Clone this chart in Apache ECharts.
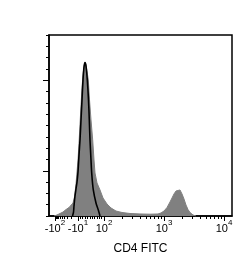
<!DOCTYPE html>
<html>
<head>
<meta charset="utf-8">
<script src="https://cdn.jsdelivr.net/npm/echarts@6/dist/echarts.min.js"></script>
<style>
html, body { margin: 0; padding: 0; background: #fff; }
#chart { width: 250px; height: 265px; }
</style>
</head>
<body>
<div id="chart"></div>
<script>
// x is in display channels (biexponential scale, 0 = left edge of the plot)
var grayX = [5, 8, 11, 14, 17, 20, 22, 24, 25.5, 27, 28, 29, 30, 31.5, 33, 34, 35, 36, 37, 38, 39.3, 40.5, 42, 43.7, 45, 46, 48, 51, 54, 58, 62, 67, 73, 81, 91, 101, 109, 112, 115, 118, 121, 123, 125, 127, 129, 131, 133, 135, 137, 139, 141, 144, 147];
var grayY = [0, 0.09, 0.22, 0.35, 0.57, 0.75, 0.88, 1.15, 1.68, 2.83, 3.89, 4.95, 6.45, 8.93, 11.32, 12.47, 13.26, 13.57, 13.35, 12.82, 12.02, 10.26, 8.49, 6.72, 4.95, 3.8, 2.92, 2.3, 1.59, 1.06, 0.71, 0.44, 0.31, 0.22, 0.18, 0.16, 0.18, 0.27, 0.44, 0.75, 1.24, 1.59, 1.95, 2.21, 2.34, 2.3, 1.95, 1.5, 0.97, 0.57, 0.31, 0.09, 0];

var isoX = [23.5, 24.5, 25, 26, 27, 28, 29, 30, 31, 32, 33, 34, 35, 36, 37, 38.3, 39.5, 40.3, 41, 42, 42.7, 44.3, 47, 49.3, 51];
var isoY = [0, 0.35, 0.88, 1.77, 2.39, 3.0, 3.89, 5.39, 6.72, 8.49, 10.26, 12.02, 13.17, 13.57, 13.26, 12.02, 10.26, 8.49, 6.72, 4.95, 3.8, 2.3, 1.15, 0.53, 0];

// tick positions on the display scale
var majorTickPos = [6, 29, 55, 115, 175];
var majorTickLabels = ['{b|-10}{s|2}', '{b|-10}{s|1}', '{b|10}{s|2}', '{b|10}{s|3}', '{b|10}{s|4}'];
var yMajorTicks = [4, 12];

function pairs(xs, ys) {
    var out = [];
    for (var i = 0; i < xs.length; i++) out.push([xs[i], ys[i]]);
    return out;
}

// minor ticks: log decades plus the linear part round zero
var minorTickPos = [];
for (var m = 2; m <= 9; m++) {
    minorTickPos.push(29 - 23 * Math.log10(m));           // -20 .. -90
    minorTickPos.push(55 + 60 * Math.log10(m));           // 200 .. 900
    minorTickPos.push(115 + 60 * Math.log10(m));          // 2000 .. 9000
}
for (var k = 1; k <= 10; k++) minorTickPos.push(29 + (55 - 29) * k / 11); // -9 .. 90 linear

var labelMap = {};
majorTickPos.forEach(function (p, i) { labelMap[p] = majorTickLabels[i]; });

var myChart = echarts.init(document.getElementById('chart'));
var rich = {
    b: { fontSize: 11, color: '#000', fontFamily: 'Liberation Sans', lineHeight: 15, verticalAlign: 'bottom' },
    s: { fontSize: 8, color: '#000', fontFamily: 'Liberation Sans', lineHeight: 15, verticalAlign: 'top' }
};

myChart.setOption({
    animation: false,
    grid: { left: 49, right: 18, top: 35, bottom: 49, show: true, borderColor: '#000', borderWidth: 1.5, backgroundColor: 'transparent' },
    xAxis: [{
        type: 'value', min: 0, max: 183, position: 'bottom',
        name: 'CD4 FITC', nameLocation: 'middle', nameGap: 27,
        nameTextStyle: { fontSize: 12, color: '#000', fontFamily: 'Liberation Sans' },
        axisLine: { show: true, lineStyle: { color: '#000', width: 1.5 } },
        axisTick: { show: true, length: 5, customValues: majorTickPos, lineStyle: { color: '#000', width: 1 } },
        axisLabel: { show: true, margin: 3, customValues: majorTickPos, rich: rich,
            formatter: function (v) { return labelMap[v] || ''; } },
        splitLine: { show: false }
    }, {
        type: 'value', min: 0, max: 183, position: 'bottom', offset: 0,
        axisLine: { show: false },
        axisTick: { show: true, length: 3, customValues: minorTickPos, lineStyle: { color: '#000', width: 1 } },
        axisLabel: { show: false },
        splitLine: { show: false }
    }],
    yAxis: [{
        type: 'value', min: 0, max: 16, interval: 1, position: 'left',
        axisLine: { show: true, lineStyle: { color: '#000', width: 1.5 } },
        axisTick: { show: true, length: 3, lineStyle: { color: '#000', width: 1 } },
        axisLabel: { show: false },
        splitLine: { show: false }
    }, {
        type: 'value', min: 0, max: 16, position: 'left', offset: 0,
        axisLine: { show: false },
        axisTick: { show: true, length: 6, customValues: yMajorTicks, lineStyle: { color: '#000', width: 1 } },
        axisLabel: { show: false },
        splitLine: { show: false }
    }],
    series: [{
        type: 'line', xAxisIndex: 0, yAxisIndex: 0,
        data: pairs(grayX, grayY),
        showSymbol: false, symbol: 'none',
        lineStyle: { color: '#808080', width: 1 },
        areaStyle: { color: '#808080', opacity: 1 },
        z: 2
    }, {
        type: 'line', xAxisIndex: 0, yAxisIndex: 0,
        data: pairs(isoX, isoY),
        showSymbol: false, symbol: 'none', smooth: 0.3,
        lineStyle: { color: '#000', width: 1.6 },
        z: 3
    }]
});
</script>
</body>
</html>
